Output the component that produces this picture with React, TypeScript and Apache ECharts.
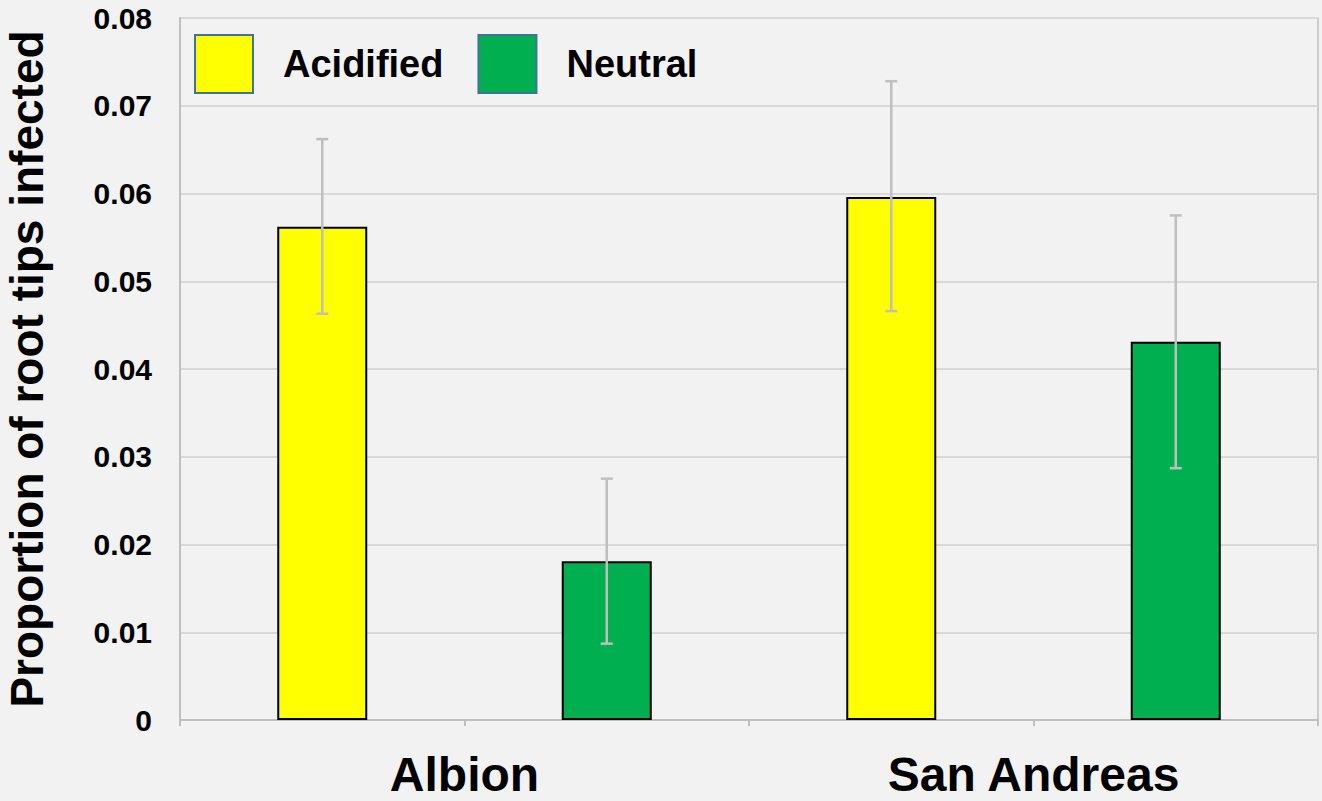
import React, { useEffect, useRef } from "react";
import * as echarts from "echarts";

const groups = ["Albion", "San Andreas"];
const slots = ["Albion-Acidified", "Albion-Neutral", "San Andreas-Acidified", "San Andreas-Neutral"];
const seriesNames = ["Acidified", "Neutral"];
const acidified = [0.0562, 0.0596];
const neutral = [0.0181, 0.0431];
const acidLow = [0.0463, 0.0466];
const acidHigh = [0.0662, 0.0728];
const neutLow = [0.0087, 0.0287];
const neutHigh = [0.0275, 0.0575];
const yTicks = [0, 0.01, 0.02, 0.03, 0.04, 0.05, 0.06, 0.07, 0.08];

const FONT = "'Liberation Sans', Arial, sans-serif";

export default function App() {
  const ref = useRef<HTMLDivElement>(null);
  useEffect(() => {
    document.body.style.margin = "0";
    document.body.style.overflow = "hidden";
    if (!ref.current) return;
    const chart = echarts.init(ref.current, undefined, { renderer: "svg" });
    const acidData = [acidified[0], "-", acidified[1], "-"];
    const neutData = ["-", neutral[0], "-", neutral[1]];
    const errData = [
      [0, acidLow[0], acidHigh[0]],
      [1, neutLow[0], neutHigh[0]],
      [2, acidLow[1], acidHigh[1]],
      [3, neutLow[1], neutHigh[1]],
    ];
    chart.setOption({
      animation: false,
      backgroundColor: "#f2f2f2",
      textStyle: { fontFamily: FONT },
      grid: {
        left: 180,
        right: 4,
        top: 18,
        bottom: 81,
        containLabel: false,
        outerBoundsMode: "none",
        show: true,
        borderColor: "#bfbfbf",
        borderWidth: 1.5,
        backgroundColor: "transparent",
      },
      legend: {
        left: 194,
        top: 34,
        padding: 0,
        itemWidth: 58,
        itemHeight: 58,
        itemGap: 34,
        icon: "rect",
        data: seriesNames,
        itemStyle: { borderColor: "#41719c", borderWidth: 2 },
        textStyle: {
          fontFamily: FONT,
          fontWeight: "bold",
          fontSize: 38,
          color: "#000",
          padding: [0, 0, 0, 25],
        },
      },
      xAxis: [
        {
          type: "category",
          data: slots,
          boundaryGap: true,
          axisLine: { show: true, lineStyle: { color: "#bfbfbf", width: 2 } },
          axisTick: { show: true, length: 6, lineStyle: { color: "#bfbfbf", width: 2 } },
          axisLabel: { show: false },
          splitLine: { show: false },
        },
        {
          type: "category",
          data: groups,
          position: "bottom",
          boundaryGap: true,
          axisLine: { show: false },
          axisTick: { show: false },
          axisLabel: {
            show: true,
            margin: 30,
            fontFamily: FONT,
            fontWeight: "bold",
            fontSize: 48,
            color: "#000",
          },
        },
      ],
      yAxis: {
        type: "value",
        min: 0,
        max: 0.08,
        interval: 0.01,
        name: "Proportion of root tips infected",
        nameLocation: "middle",
        nameGap: 130,
        nameTextStyle: { fontFamily: FONT, fontWeight: "bold", fontSize: 46, color: "#000" },
        axisLine: { show: true, lineStyle: { color: "#bfbfbf", width: 2 } },
        axisTick: { show: false },
        splitLine: { show: true, lineStyle: { color: "#d9d9d9", width: 2 } },
        axisLabel: {
          margin: 28,
          fontFamily: FONT,
          fontWeight: "bold",
          fontSize: 30,
          color: "#000",
          formatter: (v: number) => {
            const t = yTicks.find((x) => Math.abs(x - v) < 1e-9);
            return t === 0 ? "0" : (t ?? v).toFixed(2);
          },
        },
      },
      series: [
        {
          name: seriesNames[0],
          type: "bar",
          xAxisIndex: 0,
          data: acidData,
          barWidth: 90,
          barGap: "-100%",
          itemStyle: { color: "#ffff00", borderColor: "#000", borderWidth: 2 },
        },
        {
          name: seriesNames[1],
          type: "bar",
          xAxisIndex: 0,
          data: neutData,
          barWidth: 90,
          barGap: "-100%",
          itemStyle: { color: "#00b050", borderColor: "#000", borderWidth: 2 },
        },
        {
          type: "custom",
          xAxisIndex: 0,
          z: 10,
          data: errData,
          renderItem: (params: any, api: any) => {
            const x = api.value(0);
            const lo = api.coord([x, api.value(1)]);
            const hi = api.coord([x, api.value(2)]);
            const cx = lo[0];
            const half = 6;
            const style = { stroke: "#bfbfbf", lineWidth: 2.5 };
            return {
              type: "group",
              children: [
                { type: "line", shape: { x1: cx, y1: lo[1], x2: cx, y2: hi[1] }, style },
                { type: "line", shape: { x1: cx - half, y1: lo[1], x2: cx + half, y2: lo[1] }, style },
                { type: "line", shape: { x1: cx - half, y1: hi[1], x2: cx + half, y2: hi[1] }, style },
              ],
            };
          },
        },
      ],
    });
    return () => chart.dispose();
  }, []);
  return <div ref={ref} style={{ position: "fixed", left: 0, top: 0, width: 1322, height: 801 }} />;
}
